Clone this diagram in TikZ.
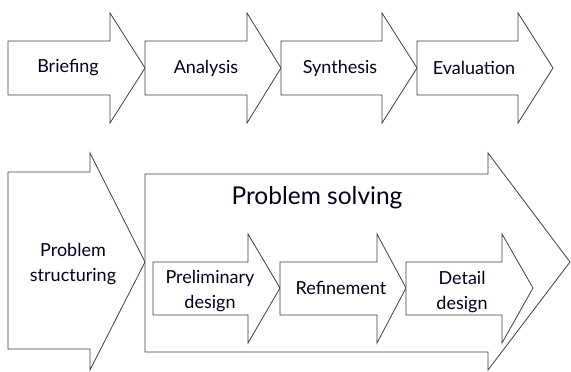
\documentclass[tikz,border=0pt]{standalone}
\usepackage{fontspec}
\setmainfont{Lato}
\begin{document}
\begin{tikzpicture}[x=1pt,y=-1pt,
  blockarrow/.style={draw=black!75,line width=0.8pt,fill=white,line join=miter},
  lbl/.style={text=black!80!blue!60!black,font=\fontsize{18}{25}\selectfont,align=center,inner sep=0pt},
  biglbl/.style={text=black!80!blue!60!black,font=\fontsize{24.5}{28}\selectfont,inner sep=0pt}]
\useasboundingbox (0,0) rectangle (571,372);
% top row: four process stages
\draw[blockarrow] (8,41) -- (110,41) -- (110,13) -- (145,68) -- (110,123) -- (110,95) -- (8,95) -- cycle;
\draw[blockarrow] (145,41) -- (247,41) -- (247,13) -- (281,68) -- (247,123) -- (247,95) -- (145,95) -- cycle;
\draw[blockarrow] (281,41) -- (382,41) -- (382,13) -- (417,68) -- (382,123) -- (382,95) -- (281,95) -- cycle;
\draw[blockarrow] (417,41) -- (518,41) -- (518,13) -- (553,68) -- (518,123) -- (518,95) -- (417,95) -- cycle;
\node[lbl] (briefing) at (68,68) {Briefing};
\node[lbl] (analysis) at (206,68) {Analysis};
\node[lbl] (synthesis) at (340,68) {Synthesis};
\node[lbl] (evaluation) at (474,68) {Evaluation};
% bottom row: structuring followed by solving
\draw[blockarrow] (8,172) -- (90,172) -- (90,153) -- (145,262) -- (90,370) -- (90,349) -- (8,349) -- cycle;
\draw[blockarrow] (145,174) -- (488,174) -- (488,153) -- (570,262) -- (488,370) -- (488,352) -- (145,352) -- cycle;
\node[lbl] (structuring) at (73,264) {Problem\\structuring};
\node[biglbl] (solving) at (317,198) {Problem solving};
% stages inside problem solving
\draw[blockarrow] (153,262) -- (248,262) -- (248,234) -- (280,288) -- (248,343) -- (248,315) -- (153,315) -- cycle;
\draw[blockarrow] (280,262) -- (377,262) -- (377,234) -- (406,288) -- (377,343) -- (377,315) -- (280,315) -- cycle;
\draw[blockarrow] (406,262) -- (502,262) -- (502,234) -- (533,288) -- (502,343) -- (502,315) -- (406,315) -- cycle;
\node[lbl] (prelim) at (210,291) {Preliminary\\design};
\node[lbl] (refine) at (341,288) {Refinement};
\node[lbl] (detail) at (462,292) {Detail\\design};
\end{tikzpicture}
\end{document}
